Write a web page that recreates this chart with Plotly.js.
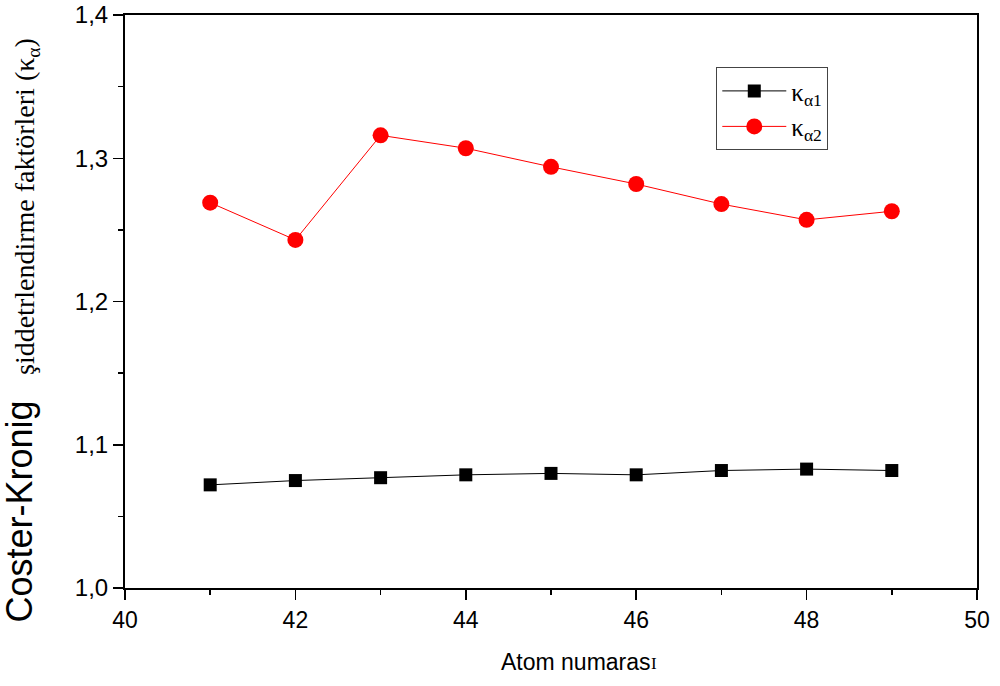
<!DOCTYPE html>
<html>
<head>
<meta charset="utf-8">
<script src="https://cdn.plot.ly/plotly-3.0.1.min.js"></script>
<style>html,body{margin:0;padding:0;background:#fff;}#chart{width:1000px;height:686px;}</style>
</head>
<body>
<div id="chart"></div>
<script>
const atomNumbers = [41, 42, 43, 44, 45, 46, 47, 48, 49];
const kappaAlpha1 = [1.072, 1.075, 1.077, 1.079, 1.080, 1.079, 1.082, 1.083, 1.082];
const kappaAlpha2 = [1.269, 1.243, 1.316, 1.307, 1.294, 1.282, 1.268, 1.257, 1.263];
const seriesNames = ['κ<sub>α1</sub>', 'κ<sub>α2</sub>'];
const xTicks = [40, 42, 44, 46, 48, 50];
const yTicks = [1.0, 1.1, 1.2, 1.3, 1.4];
const yTickLabels = ['1,0', '1,1', '1,2', '1,3', '1,4'];
const xTitleMain = 'Atom numaras';
const xTitleEnd = 'I';
const yTitleSans = 'Coster-Kronig';
const yTitleSerif = 'şiddetrlendirme faktörleri (κ<sub>α</sub>)';

const sans = 'Liberation Sans, Arial, sans-serif';
const serif = 'Liberation Serif, Times New Roman, serif';

const traces = [
  {
    x: atomNumbers, y: kappaAlpha1, name: seriesNames[0], type: 'scatter', mode: 'lines+markers',
    line: {color: '#000000', width: 1},
    marker: {symbol: 'square', size: 13, color: '#000000'}
  },
  {
    x: atomNumbers, y: kappaAlpha2, name: seriesNames[1], type: 'scatter', mode: 'lines+markers',
    line: {color: '#ff0000', width: 1},
    marker: {symbol: 'circle', size: 16, color: '#ff0000'}
  }
];

const layout = {
  width: 1000, height: 686,
  margin: {l: 125, r: 23, t: 15, b: 98},
  paper_bgcolor: '#ffffff', plot_bgcolor: '#ffffff',
  showlegend: true,
  font: {family: sans, color: '#000000'},
  xaxis: {
    range: [40, 50], tickvals: xTicks, ticktext: xTicks.map(String),
    ticks: 'outside', ticklen: 10, tickwidth: 1.5, tickcolor: '#000',
    minor: {dtick: 1, ticks: 'outside', ticklen: 5, tickwidth: 1.5, tickcolor: '#000'},
    showline: true, linecolor: '#000', linewidth: 2, mirror: true,
    showgrid: false, zeroline: false,
    tickfont: {size: 23, family: sans}
  },
  yaxis: {
    range: [1.0, 1.4], tickvals: yTicks, ticktext: yTickLabels,
    ticks: 'outside', ticklen: 10, tickwidth: 1.5, tickcolor: '#000',
    minor: {dtick: 0.05, ticks: 'outside', ticklen: 5, tickwidth: 1.5, tickcolor: '#000'},
    showline: true, linecolor: '#000', linewidth: 2, mirror: true,
    showgrid: false, zeroline: false,
    tickfont: {size: 24, family: sans}
  },
  annotations: [
    {text: xTitleMain, xref: 'paper', yref: 'paper', x: 0.618, y: -0.129, xanchor: 'right', yanchor: 'middle',
     showarrow: false, font: {size: 23, family: sans}, borderpad: 0},
    {text: xTitleEnd, xref: 'paper', yref: 'paper', x: 0.6164, y: -0.1325, xanchor: 'left', yanchor: 'middle',
     showarrow: false, font: {size: 17, family: serif}, borderpad: 0},
    {text: yTitleSans, xref: 'paper', yref: 'paper', x: -0.0985, y: -0.0628, xanchor: 'right', yanchor: 'bottom',
     textangle: -90, showarrow: false, font: {size: 36, family: sans}, borderpad: 0},
    {text: yTitleSerif, xref: 'paper', yref: 'paper', x: -0.0939, y: 0.9616, xanchor: 'right', yanchor: 'top',
     textangle: -90, showarrow: false, font: {size: 28, family: serif}, borderpad: 0}
  ],
  legend: {
    x: 0.694, y: 0.909, xanchor: 'left', yanchor: 'top',
    bordercolor: '#444', borderwidth: 1, bgcolor: '#ffffff',
    font: {size: 25, family: serif},
    itemwidth: 64, tracegroupgap: 6
  }
};

Plotly.newPlot('chart', traces, layout, {displayModeBar: false, staticPlot: true});
</script>
</body>
</html>
